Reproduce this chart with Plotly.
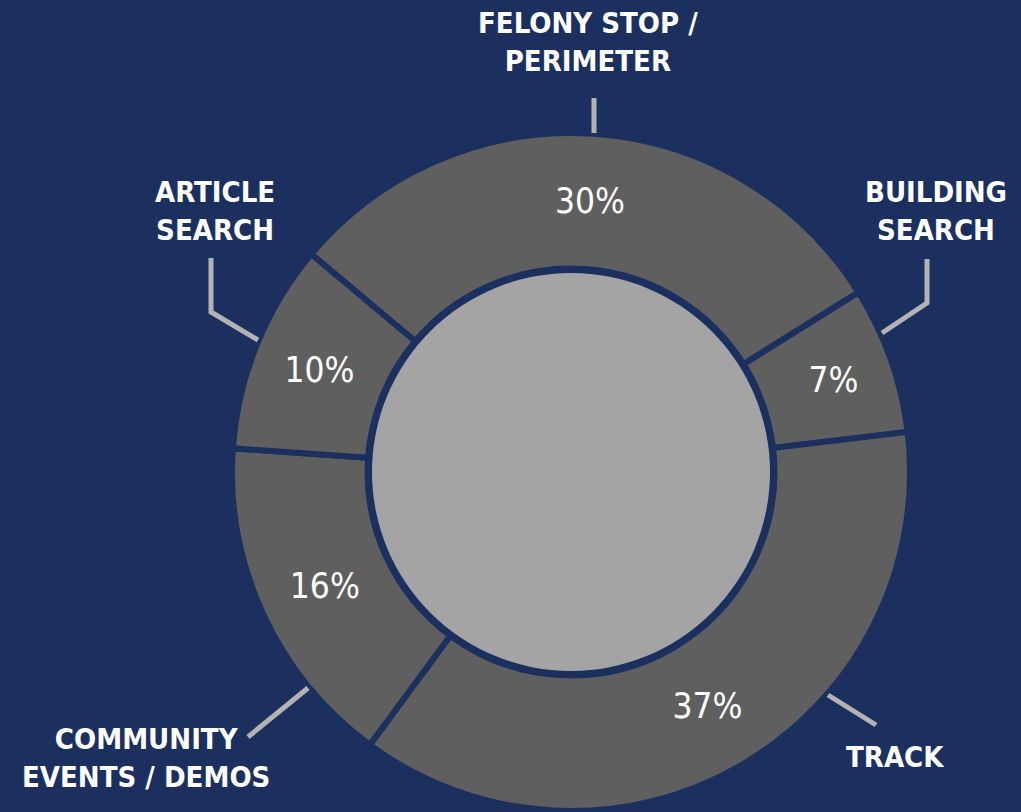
import plotly.graph_objects as go

# ---- data ----
categories = ["FELONY STOP /<br>PERIMETER", "BUILDING<br>SEARCH", "TRACK",
              "COMMUNITY<br>EVENTS / DEMOS", "ARTICLE<br>SEARCH"]
values = [30, 7, 37, 16, 10]
pct_labels = ["30%", "7%", "37%", "16%", "10%"]

W, H = 1021, 812
NAVY = "#1b305f"
SEG = "#5f5f5f"
INNER = "#a4a4a4"
LEADER = "#b3b3b3"

def px(x):
    return x / W

def py(y):
    return 1 - y / H

# donut geometry (pixels)
cx, cy, R = 571, 472, 339
r_in = 199

fig = go.Figure()
fig.add_trace(go.Pie(
    values=values,
    labels=categories,
    text=pct_labels,
    textinfo="text",
    textposition="inside",
    insidetextorientation="horizontal",
    textfont=dict(family="Liberation Sans Narrow, DejaVu Sans Condensed, sans-serif",
                  size=35, color="white"),
    sort=False,
    direction="clockwise",
    rotation=-50,
    hole=0.60,
    marker=dict(colors=[SEG] * len(values), line=dict(color=NAVY, width=6)),
    domain=dict(x=[px(cx - R), px(cx + R)], y=[py(cy + R), py(cy - R)]),
    hoverinfo="none",
    showlegend=False,
))
# inner light circle
fig.add_trace(go.Pie(
    values=[1],
    labels=["inner"],
    textinfo="none",
    marker=dict(colors=[INNER], line=dict(width=0)),
    domain=dict(x=[px(cx - r_in), px(cx + r_in)], y=[py(cy + r_in), py(cy - r_in)]),
    hoverinfo="none",
    showlegend=False,
))

# category labels (text positions)
label_pos = [(588, 42), (936, 211), (895, 757), (146, 758), (215, 211)]
for txt, (x, y) in zip(categories, label_pos):
    fig.add_annotation(
        x=px(x), y=py(y), xref="paper", yref="paper", text=txt, showarrow=False,
        xanchor="center", yanchor="middle", align="center",
        font=dict(family="DejaVu Sans Condensed, DejaVu Sans", size=29, color="white", weight="bold"),
    )

# leader lines
leaders = [
    [(594, 98), (594, 133)],
    [(927, 259), (927, 303), (882, 333)],
    [(828, 695), (876, 725)],
    [(308, 688), (248, 737)],
    [(211, 258), (211, 312), (258, 340)],
]
for pts in leaders:
    path = "M " + " L ".join(f"{px(x)},{py(y)}" for x, y in pts)
    fig.add_shape(type="path", path=path, xref="paper", yref="paper",
                  line=dict(color=LEADER, width=5))

fig.update_layout(
    width=W, height=H,
    margin=dict(l=0, r=0, t=0, b=0),
    paper_bgcolor=NAVY, plot_bgcolor=NAVY,
)
fig.write_html(
    "out.html",
    config={"displayModeBar": False},
    post_script="document.body.style.margin='0';document.body.style.background='" + NAVY + "';",
)
